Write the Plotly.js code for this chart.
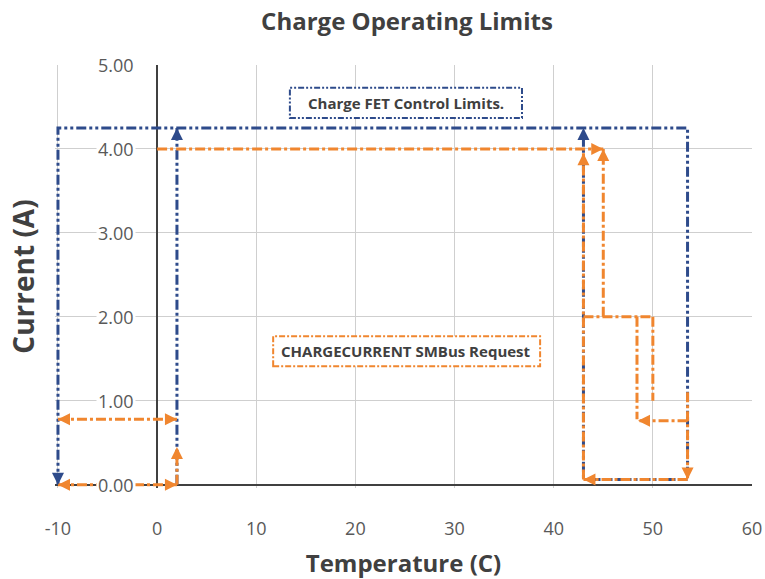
<!DOCTYPE html>
<html>
<head>
<meta charset="utf-8">
<script src="https://cdn.plot.ly/plotly-3.0.1.min.js"></script>
<style>html,body{margin:0;padding:0;background:#fff;}#chart{width:765px;height:579px;}</style>
</head>
<body>
<div id="chart"></div>
<script>
// ---- data ----
const xTickVals = [-10, 0, 10, 20, 30, 40, 50, 60];
const yTickVals = [0, 1, 2, 3, 4, 5];
const yTickText = ['0.00', '1.00', '2.00', '3.00', '4.00', '5.00'];

// Charge FET Control Limits (blue)
const fetOuterX = [-10, -10, 53.5, 53.5, 43, 43];
const fetOuterY = [0, 4.25, 4.25, 0.06, 0.06, 4.25];
const fetLowX = [2, 2];
const fetLowY = [0, 4.25];

// CHARGECURRENT SMBus Request (orange)
const reqLeftHighX = [-10, 2];
const reqLeftHighY = [0.78, 0.78];
const reqLeftZeroX = [-10, 2];
const reqLeftZeroY = [0, 0];
const reqRiseX = [2, 2];
const reqRiseY = [0, 0.45];
const reqTopX = [0, 45];
const reqTopY = [4, 4];
const reqUp43X = [43, 43];
const reqUp43Y = [0.06, 3.95];
const reqUp45X = [45, 45];
const reqUp45Y = [2, 4];
const reqMidX = [43, 50];
const reqMidY = [2, 2];
const reqDrop48X = [48.4, 48.4];
const reqDrop48Y = [2, 0.78];
const reqDrop50X = [50, 50];
const reqDrop50Y = [2, 1.0];
const reqLowX = [53.5, 48.5];
const reqLowY = [0.76, 0.76];
const reqDrop53X = [53.5, 53.5];
const reqDrop53Y = [1.1, 0.06];
const reqBottomX = [53.5, 43];
const reqBottomY = [0.06, 0.06];

const BLUE = '#2E4B8B';
const ORANGE = '#F0862F';
const blueDash = '10px,3px,3px,3px,3px,3px';
const orangeDash = '10px,3px,3px,3px';
const FONT = 'Open Sans, sans-serif';

// segments: [xs, ys, color, dash, arrowStart, arrowEnd]
const segments = [
  [fetOuterX, fetOuterY, BLUE, blueDash, true, true],
  [fetLowX, fetLowY, BLUE, blueDash, false, true],
  [reqLeftHighX, reqLeftHighY, ORANGE, orangeDash, true, true],
  [reqLeftZeroX, reqLeftZeroY, ORANGE, orangeDash, true, true],
  [reqRiseX, reqRiseY, ORANGE, orangeDash, false, true],
  [reqTopX, reqTopY, ORANGE, orangeDash, false, true],
  [reqUp43X, reqUp43Y, ORANGE, orangeDash, false, true],
  [reqUp45X, reqUp45Y, ORANGE, orangeDash, false, true],
  [reqMidX, reqMidY, ORANGE, orangeDash, false, false],
  [reqDrop48X, reqDrop48Y, ORANGE, orangeDash, false, false],
  [reqDrop50X, reqDrop50Y, ORANGE, orangeDash, false, false],
  [reqLowX, reqLowY, ORANGE, orangeDash, false, true],
  [reqDrop53X, reqDrop53Y, ORANGE, orangeDash, false, true],
  [reqBottomX, reqBottomY, ORANGE, orangeDash, false, true]
];

const traces = segments.map(s => ({
  type: 'scatter', mode: 'lines', x: s[0], y: s[1],
  line: {color: s[2], width: 3, dash: s[3]}, hoverinfo: 'skip', showlegend: false
}));

const annotations = [];
const TAIL = 9;
function addArrow(xTip, yTip, xFrom, yFrom, color) {
  const dx = Math.sign(xTip - xFrom), dy = Math.sign(yTip - yFrom);
  annotations.push({
    x: xTip, y: yTip, xref: 'x', yref: 'y', text: '', showarrow: true,
    ax: -dx * TAIL, ay: dy * TAIL, arrowhead: 2, arrowsize: 1.2, arrowwidth: 2,
    arrowcolor: color, standoff: 0, startstandoff: 0
  });
}
segments.forEach(s => {
  const xs = s[0], ys = s[1], n = xs.length;
  if (s[4]) addArrow(xs[0], ys[0], xs[1], ys[1], s[2]);
  if (s[5]) addArrow(xs[n - 1], ys[n - 1], xs[n - 2], ys[n - 2], s[2]);
});

// y tick labels with white background (as in the reference)
yTickVals.forEach((v, i) => {
  annotations.push({
    x: -2.1, y: v, xref: 'x', yref: 'y', text: yTickText[i], showarrow: false,
    xanchor: 'right', yanchor: 'middle', bgcolor: '#ffffff', borderpad: 1,
    font: {family: FONT, size: 18, color: '#595959'}
  });
});

// series labels
annotations.push({
  xref: 'paper', yref: 'paper', x: 0.5036, y: 0.910, xanchor: 'center', yanchor: 'middle',
  text: '<b>Charge FET Control Limits.</b>',
  showarrow: false, font: {family: FONT, size: 15, color: '#404040'}
});
annotations.push({
  xref: 'paper', yref: 'paper', x: 0.5036, y: 0.324, xanchor: 'center', yanchor: 'middle',
  text: '<b>CHARGECURRENT SMBus Request</b>',
  showarrow: false, font: {family: FONT, size: 15, color: '#404040'}
});

const shapes = [
  {type: 'rect', xref: 'paper', yref: 'paper', x0: 0.337, x1: 0.670, y0: 0.875, y1: 0.946,
   line: {color: BLUE, width: 2, dash: '6px,2px,2px,2px,2px,2px'}, fillcolor: '#ffffff', layer: 'above'},
  {type: 'rect', xref: 'paper', yref: 'paper', x0: 0.313, x1: 0.696, y0: 0.288, y1: 0.359,
   line: {color: ORANGE, width: 2, dash: '6px,2px,2px,2px'}, fillcolor: '#ffffff', layer: 'above'}
];

const layout = {
  width: 765, height: 579,
  margin: {l: 55, r: 13, t: 65, b: 91},
  paper_bgcolor: '#ffffff', plot_bgcolor: '#ffffff',
  showlegend: false,
  title: {text: '<b>Charge Operating Limits</b>', x: 0.532, xanchor: 'center', y: 0.962, yanchor: 'middle',
          font: {family: FONT, size: 24, color: '#404040'}},
  xaxis: {
    range: [-10.3, 60], tickvals: xTickVals, ticktext: xTickVals.map(String),
    showgrid: true, gridcolor: '#CFCFCF', gridwidth: 1,
    zeroline: true, zerolinecolor: '#404040', zerolinewidth: 2,
    showline: false, ticks: '', ticklabelstandoff: 28,
    tickfont: {family: FONT, size: 18, color: '#595959'},
    title: {text: '<b>Temperature (C)</b>', standoff: 16,
            font: {family: FONT, size: 24, color: '#404040'}},
    fixedrange: true
  },
  yaxis: {
    range: [-0.04, 5], tickvals: yTickVals, showticklabels: false,
    showgrid: true, gridcolor: '#CFCFCF', gridwidth: 1,
    zeroline: true, zerolinecolor: '#404040', zerolinewidth: 2,
    showline: false, ticks: '',
    title: {text: '<b>Current (A)</b>', standoff: 11,
            font: {family: FONT, size: 28, color: '#404040'}},
    fixedrange: true
  },
  shapes: shapes,
  annotations: annotations
};

Plotly.newPlot('chart', traces, layout, {displayModeBar: false, staticPlot: true});
</script>
</body>
</html>
